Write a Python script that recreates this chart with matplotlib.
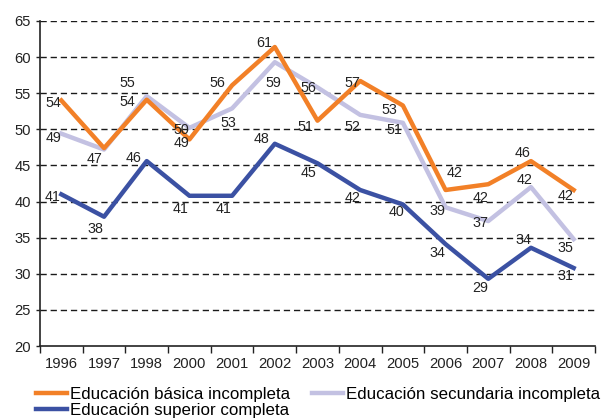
import numpy as np
import matplotlib
matplotlib.use("Agg")
import matplotlib.pyplot as plt

plt.rcParams['font.family'] = ['Liberation Sans', 'DejaVu Sans']

# Years and series values
years = ['1996', '1997', '1998', '2000', '2001', '2002', '2003',
         '2004', '2005', '2006', '2007', '2008', '2009']
basica = [54.0, 47.4, 54.1, 48.6, 56.1, 61.4, 51.2, 56.7, 53.3, 41.6, 42.4, 45.6, 41.6]
secundaria = [49.4, 47.2, 54.6, 50.2, 52.9, 59.3, 55.8, 52.0, 50.9, 39.2, 37.3, 42.0, 34.8]
superior = [41.0, 37.9, 45.6, 40.8, 40.8, 48.0, 45.3, 41.6, 39.6, 34.1, 29.3, 33.6, 30.8]

# Label offsets in pixels (dx, dy with dy downward); None = no label
off_basica = [(-8, 3), (-9, 11), (-19, 2), (-8, 4), (-15, -2), (-11, -4), (-12, 6),
              (-8, 2), (-14, 5), (9, -17), (-8, 14), (-8, -8), (-8, 6)]
off_secundaria = [(-8, 4), None, (-19, -13), (-8, 2), (-4, 15), (-1, 21), (-9, 1),
                  (-8, 12), (-9, 7), (-8, 4), (-8, 2), (-6, -7), (-8, 9)]
off_superior = [(-9, 3), (-9, 12), (-13, -3), (-9, 13), (-9, 13), (-13, -5), (-9, 10),
                (-8, 8), (-6, 8), (-8, 9), (-8, 9), (-8, -8), (-8, 8)]

c_basica = '#F28027'
c_secundaria = '#C3C1E2'
c_superior = '#3B51A3'

fig = plt.figure(figsize=(6.03, 4.18), dpi=100)
ax = fig.add_axes([40 / 603, 1 - 346 / 418, 555 / 603, 325 / 418])

x = np.arange(len(years))
l1, = ax.plot(x, basica, color=c_basica, lw=3.2, label='Educación básica incompleta', zorder=3)
l2, = ax.plot(x, secundaria, color=c_secundaria, lw=3.2, label='Educación secundaria incompleta', zorder=2)
l3, = ax.plot(x, superior, color=c_superior, lw=3.2, label='Educación superior completa', zorder=3)

for vals, offs in [(basica, off_basica), (secundaria, off_secundaria), (superior, off_superior)]:
    for xi, v, o in zip(x, vals, offs):
        if o is None:
            continue
        ax.annotate(f'{round(v):d}', (xi, v), xytext=(o[0], -o[1]),
                    textcoords='offset pixels', ha='center', va='center',
                    fontsize=10.3, color='#222222', zorder=4)

ax.set_xlim(-0.5, len(years) - 0.5)
ax.set_ylim(20, 65)
ax.set_yticks(np.arange(20, 66, 5))
ax.set_xticks(x)
ax.set_xticklabels(years)
ax.set_xticks(np.arange(-0.5, len(years), 1), minor=True)

for yv in range(25, 66, 5):
    ax.axhline(yv, color='#1a1a1a', lw=1, ls=(0, (4.5, 2.8)), zorder=1)

for s in ['top', 'right']:
    ax.spines[s].set_visible(False)
for s in ['left', 'bottom']:
    ax.spines[s].set_color('#222222')
    ax.spines[s].set_linewidth(1.2)

ax.tick_params(axis='y', length=3, width=1, pad=3.5, labelsize=10.6, colors='#222222')
ax.tick_params(axis='x', which='major', length=0, pad=8, labelsize=10.6, colors='#222222')
ax.tick_params(axis='x', which='minor', length=5, width=1, color='#222222')

fig.legend(handles=[l1, l3, l2], loc='upper left', bbox_to_anchor=(36 / 603, 1 - 387 / 418),
           ncol=2, frameon=False, fontsize=12.2, handlelength=1.85, handletextpad=0.15,
           columnspacing=1.3, labelspacing=0.05, borderpad=0, borderaxespad=0)

fig.savefig('out.png', dpi=100)
